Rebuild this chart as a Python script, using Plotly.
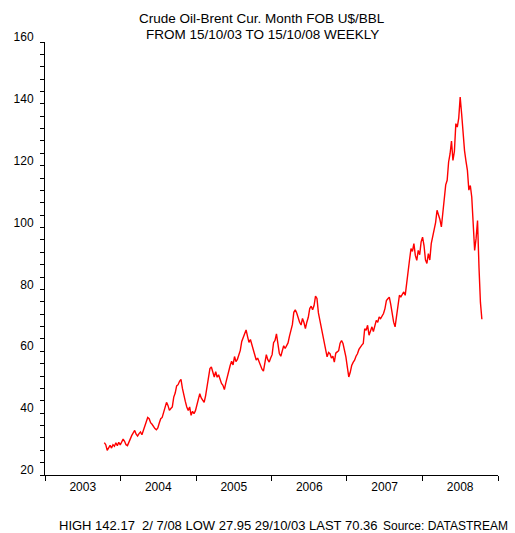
import pandas as pd
import plotly.graph_objects as go

# Weekly Brent prices (US$/BBL), Wednesdays from 15/10/03 to 15/10/08
start_date = "2003-10-15"
end_date = "2008-10-15"

y2003 = [30.5, 29.8, 27.95, 28.9, 29.6, 28.7, 29.8, 29.3, 30.4, 29.5, 30.6, 29.7]
y2004 = [30.8, 31.6, 30.9, 29.8,
         29.5, 30.8, 31.9, 32.8,
         33.6, 34.4, 33.2, 32.6, 33.4,
         33.9, 33.0, 34.6, 35.8,
         37.2, 38.6, 38.2, 36.9,
         36.4, 35.6, 35.0, 34.6, 35.2,
         36.8, 38.2, 38.6, 40.1,
         42.0, 43.5, 42.5, 40.9,
         41.5, 42.0, 45.2, 46.5, 48.8,
         49.2, 50.3, 50.9, 48.0,
         45.2, 43.8, 42.0, 40.9,
         42.0, 39.3, 40.6, 39.8, 40.8]
y2005 = [42.5, 44.8, 46.3, 44.9,
         44.2, 43.5, 45.6, 48.6,
         51.8, 54.4, 54.9, 53.6, 51.7,
         53.4, 51.6, 52.4, 50.8,
         49.6, 49.0, 47.6, 49.8,
         52.0, 53.2, 55.4, 56.8, 55.6,
         58.3, 56.7, 57.4, 59.2,
         60.3, 63.2, 64.5, 65.4, 66.9,
         64.8, 62.9, 63.8, 62.2,
         60.3, 59.2, 57.2, 57.8,
         56.4, 55.3, 54.2, 53.6, 55.8,
         58.9, 57.3, 56.5, 57.8]
y2006 = [58.9, 62.8, 63.5, 65.6,
         61.4, 59.3, 58.4, 60.6,
         61.8, 60.9, 61.6, 62.7, 64.9,
         66.8, 68.6, 72.6, 73.4,
         72.4, 70.6, 69.4, 68.5, 70.6,
         69.3, 67.3, 69.4, 71.0,
         73.8, 74.6, 73.4, 74.8,
         77.8, 77.1, 72.4, 70.0, 68.0,
         65.7, 63.2, 60.8, 58.2,
         59.6, 59.2, 57.8, 58.4,
         56.5, 59.4, 59.8, 60.2, 62.6,
         63.5, 62.5, 60.8, 58.2]
y2007 = [54.9, 51.7, 53.2, 55.4, 56.4,
         57.1, 58.4, 59.2, 60.6,
         61.4, 62.0, 62.5, 67.3,
         66.8, 68.4, 65.2, 66.5,
         67.9, 66.4, 68.3, 70.0, 69.4,
         71.1, 70.6, 71.4, 72.2,
         73.8, 76.4, 77.0, 77.5,
         75.2, 72.2, 69.4, 67.9, 71.6,
         75.4, 78.1, 77.6, 78.4,
         79.2, 78.1, 82.6, 85.1, 89.6,
         93.2, 92.3, 94.8, 91.0,
         89.4, 92.6, 91.2, 95.4]
y2008 = [96.9, 94.2, 89.6, 88.4, 91.6,
         89.5, 94.8, 97.4, 99.6,
         101.6, 105.6, 104.2, 102.6,
         100.2, 105.6, 109.9, 113.8, 115.3,
         121.2, 123.8, 128.0, 121.7,
         124.6, 133.6, 132.5, 135.4,
         142.17, 136.8, 130.3, 124.9, 121.5,
         118.5, 112.1, 113.6, 109.9,
         101.3, 92.6, 96.5, 102.3,
         87.2, 75.8, 70.36]

prices = y2003 + y2004 + y2005 + y2006 + y2007 + y2008
dates = pd.date_range(start_date, end_date, freq="W-WED")
assert len(dates) == len(prices), (len(dates), len(prices))

title_lines = ["Crude Oil-Brent Cur. Month FOB U$/BBL", "FROM 15/10/03 TO 15/10/08 WEEKLY"]
footer_text = "HIGH 142.17\u00a0\u00a02/\u00a07/08 LOW 27.95 29/10/03 LAST 70.36"
source_text = "Source: DATASTREAM"

FONT = "Liberation Sans, Arial, sans-serif"

fig = go.Figure()
fig.add_trace(go.Scatter(x=dates, y=prices, mode="lines",
                         line=dict(color="#ff0000", width=1.4),
                         hoverinfo="skip", showlegend=False))

W, H = 515, 533
ml, mr, mt, mb = 45, 17, 42, 58
pw, ph = W - ml - mr, H - mt - mb

def px_x(x):
    return (x - ml) / pw

def px_y(y):
    return (H - mb - y) / ph

fig.update_layout(
    width=W, height=H,
    margin=dict(l=ml, r=mr, t=mt, b=mb, autoexpand=False),
    paper_bgcolor="white", plot_bgcolor="white",
    font=dict(family=FONT, size=12, color="black"),
    showlegend=False,
)

fig.update_xaxes(
    type="date", range=["2003-01-01", "2009-01-01"],
    tick0="2003-01-01", dtick="M12", tickformat="%Y", ticklabelmode="period",
    ticks="outside", ticklen=5, tickcolor="black", tickwidth=1,
    ticklabelstandoff=-4,
    showline=True, linecolor="black", linewidth=1,
    showgrid=False, zeroline=False, automargin=False,
    tickfont=dict(family=FONT, size=12, color="black"),
)
fig.update_yaxes(
    range=[20, 160], tick0=20, dtick=20,
    ticks="outside", ticklen=4, tickcolor="black", tickwidth=1,
    ticklabelshift=-5, ticklabelstandoff=4,
    minor=dict(dtick=4, ticks="outside", ticklen=4, tickcolor="black", showgrid=False),
    showline=True, linecolor="black", linewidth=1,
    showgrid=False, zeroline=False, automargin=False,
    tickfont=dict(family=FONT, size=12, color="black"),
)

annotations = [
    dict(text=title_lines[0], x=px_x(262), y=px_y(19)),
    dict(text=title_lines[1], x=px_x(262), y=px_y(34)),
]
for a in annotations:
    a.update(xref="paper", yref="paper", xanchor="center", yanchor="middle",
             showarrow=False, font=dict(family=FONT, size=13.5, color="black"))
annotations.append(dict(text=footer_text, x=px_x(57), y=px_y(525), xref="paper", yref="paper",
                        xanchor="left", yanchor="middle", showarrow=False,
                        font=dict(family=FONT, size=13, color="black")))
annotations.append(dict(text=source_text, x=px_x(382), y=px_y(526), xref="paper", yref="paper",
                        xanchor="left", yanchor="middle", showarrow=False, borderpad=0,
                        font=dict(family=FONT, size=12, color="black")))
fig.update_layout(annotations=annotations)

fig.write_html("out.html",
               config={"displayModeBar": False, "staticPlot": True},
               post_script="document.body.style.margin='0px';document.body.style.overflow='hidden';")
